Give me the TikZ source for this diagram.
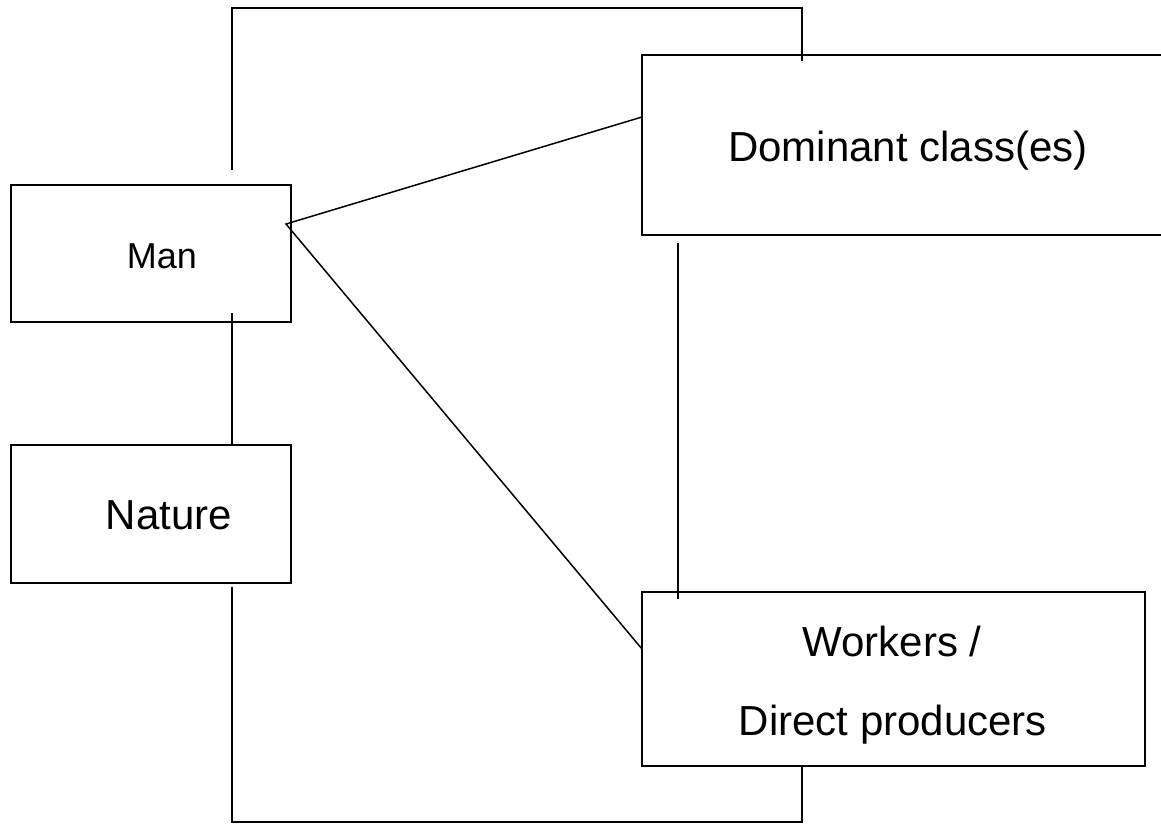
\documentclass[tikz,border=0pt]{standalone}
\usepackage{fontspec}
\setmainfont{Liberation Sans}
\begin{document}
\begin{tikzpicture}[x=1pt,y=-1pt,
  box/.style={draw,line width=1.5pt,inner sep=0pt,outer sep=0pt,anchor=north west},
  conn/.style={line width=1.5pt},
  lbl/.style={anchor=base,inner sep=0pt,font=\fontsize{42}{50}\selectfont},
  smalllbl/.style={anchor=base,inner sep=0pt,font=\fontsize{36}{43}\selectfont}]
\useasboundingbox (0,0) rectangle (1161,825);
% boxes
\node[box,minimum width=280pt,minimum height=137pt] (manbox) at (11,185) {};
\node[box,minimum width=280pt,minimum height=138pt] (natbox) at (11,445) {};
\node[box,minimum width=530pt,minimum height=180pt] (dombox) at (642,55) {};
\node[box,minimum width=503pt,minimum height=174pt] (wrkbox) at (642,592) {};
% labels
\node[smalllbl] (man) at (162,268) {Man};
\node[lbl] (nature) at (169,529) {Nature};
\node[lbl] (dom) at (908,161) {Dominant class(es)};
\node[lbl] (wrk1) at (892,656) {Workers /};
\node[lbl] (wrk2) at (893,735) {Direct producers};
% connector points
\coordinate (t1) at (232,170);
\coordinate (ttop) at (517,8);
\coordinate (t2) at (802,61);
\coordinate (b1) at (232,587);
\coordinate (bbot) at (517,822);
\coordinate (b2) at (802,766);
\coordinate (mn1) at (232,313);
\coordinate (mn2) at (232,445);
\coordinate (dw1) at (678,243);
\coordinate (dw2) at (678,599);
\coordinate (apex) at (286,224);
\coordinate (dl) at (642,117);
\coordinate (wl) at (642,649);
% connectors
\draw[conn] (t1) |- (ttop) -| (t2);
\draw[conn] (b1) |- (bbot) -| (b2);
\draw[conn] (mn1) -- (mn2);
\draw[conn] (dw1) -- (dw2);
\draw[conn] (dl) -- (apex) -- (wl);
\end{tikzpicture}
\end{document}
